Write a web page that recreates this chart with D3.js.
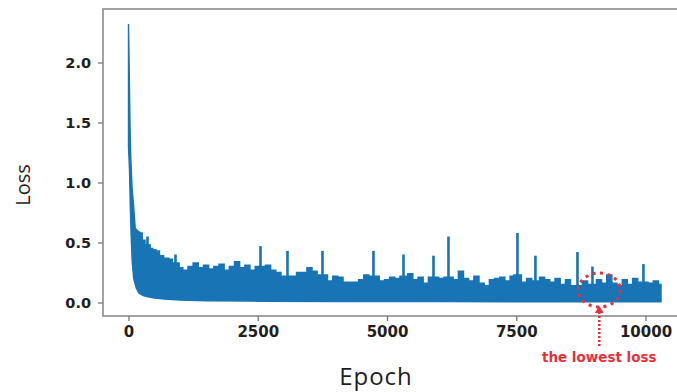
<!DOCTYPE html>
<html>
<head>
<meta charset="utf-8">
<script src="https://cdn.jsdelivr.net/npm/d3@7/dist/d3.min.js"></script>
<style>
  html, body { margin: 0; padding: 0; background: #fff; }
  svg { display: block; }
</style>
</head>
<body>
<svg id="chart" width="677" height="392"></svg>
<script>
// ---- data ----
const xTicks = [0, 2500, 5000, 7500, 10000];
const yTicks = [0.0, 0.5, 1.0, 1.5, 2.0];

// upper envelope of the loss band
const upperEpochs = [0, 15, 30, 45, 70, 100, 130, 170, 230, 265, 320, 420, 470, 530, 600, 680, 780, 850,
  980, 1050, 1150, 1250, 1350, 1450, 1550, 1650, 1750, 1850, 1950, 2050, 2150, 2250, 2350, 2450,
  2650, 2750, 2850, 2950, 3150, 3250, 3350, 3450, 3550, 3650, 3850, 3950, 4050, 4150, 4250, 4350,
  4450, 4550, 4650, 4850, 4950, 5050, 5150, 5250, 5400, 5500, 5600, 5700, 5800, 6000, 6100, 6280,
  6380, 6480, 6580, 6680, 6780, 6880, 6980, 7080, 7180, 7280, 7380, 7450, 7600, 7700, 7800, 7950,
  8050, 8150, 8250, 8350, 8450, 8550, 8780, 8880, 9050, 9150, 9250, 9350, 9450, 9550, 9650, 9750,
  9850, 10050, 10150, 10250, 10300];
const upperLoss = [2.32, 1.9, 1.45, 1.19, 0.95, 0.80, 0.62, 0.60, 0.58, 0.52, 0.48, 0.45, 0.44, 0.43, 0.39, 0.37, 0.36, 0.33,
  0.29, 0.27, 0.30, 0.33, 0.29, 0.31, 0.28, 0.30, 0.32, 0.27, 0.30, 0.34, 0.29, 0.31, 0.27, 0.30,
  0.31, 0.27, 0.25, 0.22, 0.22, 0.25, 0.25, 0.29, 0.26, 0.23, 0.18, 0.22, 0.21, 0.17, 0.17, 0.17,
  0.19, 0.23, 0.22, 0.18, 0.19, 0.21, 0.20, 0.22, 0.24, 0.19, 0.21, 0.16, 0.21, 0.20, 0.21, 0.19,
  0.26, 0.20, 0.18, 0.22, 0.16, 0.14, 0.19, 0.20, 0.21, 0.18, 0.22, 0.23, 0.17, 0.20, 0.18, 0.21,
  0.19, 0.17, 0.20, 0.15, 0.19, 0.14, 0.18, 0.15, 0.19, 0.16, 0.23, 0.16, 0.14, 0.19, 0.15, 0.20,
  0.17, 0.16, 0.18, 0.15, 0.15];

// lower envelope of the loss band
const lowerEpochs = [0, 20, 35, 50, 70, 100, 150, 200, 250, 300, 400, 500, 700, 1000, 1500, 2500, 4000, 6000, 8000, 10300];
const lowerLoss   = [1.30, 1.10, 0.80, 0.58, 0.35, 0.20, 0.12, 0.08, 0.065, 0.055, 0.045, 0.038, 0.028, 0.020, 0.015, 0.011, 0.008, 0.007, 0.006, 0.005];

// isolated spikes above the band
const spikeEpochs = [367, 909, 2553, 3075, 3752, 4738, 5319, 5899, 6189, 7523, 7871, 8684, 8974, 9960];
const spikeLoss   = [0.55, 0.40, 0.47, 0.43, 0.43, 0.43, 0.40, 0.39, 0.55, 0.58, 0.39, 0.42, 0.30, 0.32];

// annotation
const markEpoch = 9100;
const markLabel = "the lowest loss";

// ---- drawing ----
const svg = d3.select("#chart");
const frame = {left: 103, top: 9, right: 682, bottom: 316};

const x = d3.scaleLinear().domain([0, 10000]).range([128.5, 645.5]);
const y = d3.scaleLinear().domain([0, 2]).range([302.5, 62.5]);

const blue = "#1874b4";

// band polygon: smooth steep start, blocky noisy tail, then back along the lower envelope
const upperPts = upperEpochs.map((e, i) => [x(e), y(upperLoss[i])]);
const split = upperEpochs.indexOf(230);
const headD = d3.line()(upperPts.slice(0, split + 1));
const tailD = d3.line().curve(d3.curveStepAfter)(upperPts.slice(split));
const lowerPts = lowerEpochs.map((e, i) => [x(e), y(lowerLoss[i])]).reverse();
const loD = d3.line()(lowerPts);
svg.append("path")
  .attr("d", headD + tailD.replace(/^M/, "L") + loD.replace(/^M/, "L") + "Z")
  .attr("fill", blue)
  .attr("stroke", blue)
  .attr("stroke-width", 1.4)
  .attr("stroke-linejoin", "miter");

// spikes
svg.append("g").selectAll("line")
  .data(spikeEpochs.map((e, i) => ({e, v: spikeLoss[i]})))
  .join("line")
  .attr("x1", d => x(d.e)).attr("x2", d => x(d.e))
  .attr("y1", d => y(0.12)).attr("y2", d => y(d.v))
  .attr("stroke", blue)
  .attr("stroke-width", 2.6);

// frame
svg.append("rect")
  .attr("x", frame.left).attr("y", frame.top)
  .attr("width", frame.right - frame.left).attr("height", frame.bottom - frame.top)
  .attr("fill", "none").attr("stroke", "#8a8a8a").attr("stroke-width", 1.6);

// axes
const xAxis = d3.axisBottom(x).tickValues(xTicks).tickSize(5).tickPadding(5).tickFormat(d3.format("d"));
const gx = svg.append("g").attr("transform", `translate(0,${frame.bottom})`).call(xAxis);
gx.select(".domain").remove();
gx.selectAll(".tick line").attr("stroke", "#777").attr("stroke-width", 1.3);
gx.selectAll(".tick text")
  .attr("fill", "#1e1e1e")
  .style("font-family", "'DejaVu Sans', sans-serif")
  .style("font-weight", "bold")
  .style("font-size", "15px");

const yAxis = d3.axisLeft(y).tickValues(yTicks).tickSize(5).tickPadding(7).tickFormat(d3.format(".1f"));
const gy = svg.append("g").attr("transform", `translate(${frame.left},0)`).call(yAxis);
gy.select(".domain").remove();
gy.selectAll(".tick line").attr("stroke", "#777").attr("stroke-width", 1.3);
gy.selectAll(".tick text")
  .attr("fill", "#1e1e1e")
  .style("font-family", "'DejaVu Sans', sans-serif")
  .style("font-weight", "bold")
  .style("font-size", "14.5px");

// axis titles
svg.append("text")
  .attr("x", 376).attr("y", 385)
  .attr("text-anchor", "middle")
  .style("font-family", "'Open Sans', sans-serif")
  .style("font-size", "24px")
  .style("letter-spacing", "1px")
  .attr("fill", "#1e1e1e")
  .text("Epoch");

svg.append("text")
  .attr("transform", "translate(30,185) rotate(-90)")
  .attr("text-anchor", "middle")
  .style("font-family", "'Open Sans', sans-serif")
  .style("font-size", "20px")
  .attr("fill", "#1e1e1e")
  .text("Loss");

// annotation: dotted ellipse, dotted arrow, label
const red = "#e8303a";
const cx = x(markEpoch) + 0.3;
svg.append("ellipse")
  .attr("cx", cx).attr("cy", 290)
  .attr("rx", 21).attr("ry", 17)
  .attr("fill", "none").attr("stroke", red)
  .attr("stroke-width", 3).attr("stroke-dasharray", "3,4.5");

svg.append("line")
  .attr("x1", cx).attr("x2", cx)
  .attr("y1", 312).attr("y2", 346)
  .attr("stroke", red).attr("stroke-width", 2.5)
  .attr("stroke-dasharray", "2,2");

svg.append("path")
  .attr("d", `M${cx},306 L${cx - 4.5},313 L${cx + 4.5},313 Z`)
  .attr("fill", red);

svg.append("text")
  .attr("x", cx).attr("y", 362)
  .attr("text-anchor", "middle")
  .style("font-family", "'DejaVu Sans', sans-serif")
  .style("font-weight", "bold")
  .style("font-size", "13.5px")
  .attr("fill", red)
  .text(markLabel);
</script>
</body>
</html>
